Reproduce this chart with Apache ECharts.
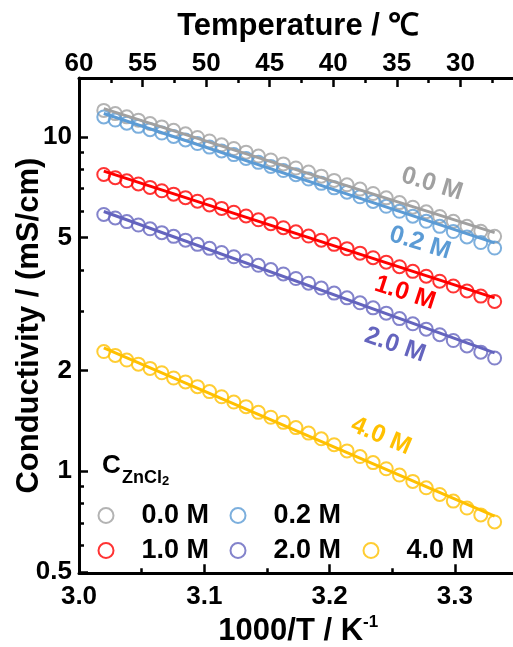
<!DOCTYPE html>
<html><head><meta charset="utf-8">
<script src="https://cdn.jsdelivr.net/npm/echarts@6/dist/echarts.min.js"></script>
<style>html,body{margin:0;padding:0;background:#fff}#c{width:513px;height:647px}</style>
</head><body><div id="c"></div>
<script>
// x positions: 1000/T (K^-1), measurements at 58 ... 27 degC
const invT = [3.01978,3.02893,3.03813,3.04739,3.05670,3.06607,3.07550,3.08499,3.09454,3.10414,3.11381,3.12354,3.13332,3.14317,3.15308,3.16306,3.17309,3.18319,3.19336,3.20359,3.21388,3.22425,3.23468,3.24517,3.25574,3.26637,3.27708,3.28785,3.29870,3.30961,3.32061,3.33167];
const cond00 = [12.00,11.74,11.48,11.22,10.96,10.71,10.46,10.21,9.96,9.72,9.47,9.23,9.00,8.76,8.53,8.30,8.07,7.85,7.63,7.41,7.19,6.98,6.77,6.57,6.36,6.16,5.97,5.78,5.59,5.40,5.22,5.04];
const cond02 = [11.47,11.23,10.99,10.75,10.51,10.27,10.03,9.79,9.55,9.32,9.08,8.85,8.62,8.39,8.16,7.93,7.71,7.48,7.26,7.04,6.83,6.62,6.41,6.20,5.99,5.79,5.59,5.40,5.21,5.02,4.83,4.65];
const cond10 = [7.72,7.55,7.39,7.23,7.06,6.90,6.74,6.58,6.42,6.26,6.11,5.95,5.80,5.65,5.50,5.35,5.20,5.05,4.91,4.77,4.63,4.49,4.35,4.22,4.09,3.96,3.83,3.70,3.58,3.46,3.34,3.22];
const cond20 = [5.86,5.72,5.58,5.45,5.31,5.17,5.04,4.91,4.77,4.64,4.51,4.38,4.26,4.13,4.01,3.89,3.77,3.65,3.53,3.41,3.30,3.19,3.08,2.97,2.86,2.76,2.66,2.56,2.46,2.37,2.27,2.18];
const cond40 = [2.28,2.22,2.15,2.09,2.03,1.97,1.90,1.85,1.79,1.73,1.67,1.61,1.56,1.50,1.45,1.40,1.35,1.30,1.25,1.20,1.15,1.106,1.061,1.017,0.974,0.932,0.892,0.852,0.814,0.776,0.740,0.705];
// Arrhenius fit lines (end points)
const fitX = [3.01978, 3.33167];
const fit00 = [12.15, 5.17];
const fit02 = [11.75, 4.82];
const fit10 = [7.90, 3.30];
const fit20 = [5.98, 2.26];
const fit40 = [2.34, 0.734];
const seriesNames = ['0.0 M','0.2 M','1.0 M','2.0 M','4.0 M'];
// tick labels
const xTicks = [3.0, 3.1, 3.2, 3.3];
const xMinorTicks = [3.05, 3.15, 3.25];
const tTicks = [60, 55, 50, 45, 40, 35, 30];
const tMinorTicks = [57.5, 52.5, 47.5, 42.5, 37.5, 32.5, 27.5];
const yTicks = [0.5, 1, 2, 5, 10];
const yMinorTicks = [0.6, 0.7, 0.8, 0.9, 3, 4, 6, 7, 8, 9];

const condSets = [cond00, cond02, cond10, cond20, cond40];
const fitSets = [fit00, fit02, fit10, fit20, fit40];
const colors = ['#a0a0a0', '#5b9bd5', '#ff0000', '#6464be', '#ffc000'];
const FF = '"Liberation Sans", Arial, sans-serif';
const lbl = {fontFamily: FF, fontWeight: 'bold', fontSize: 26, color: '#000'};
const axLine = {show: true, lineStyle: {color: '#000', width: 3}};

const series = [];
condSets.forEach((vals, i) => {
  series.push({
    name: seriesNames[i], type: 'scatter', xAxisIndex: 0, yAxisIndex: 0,
    data: invT.map((x, j) => [x, vals[j]]),
    symbol: 'circle', symbolSize: 13,
    itemStyle: {color: 'rgba(0,0,0,0)', borderColor: colors[i], borderWidth: 2},
    z: 2, silent: true
  });
  series.push({
    name: seriesNames[i] + ' fit', type: 'line', xAxisIndex: 0, yAxisIndex: 0,
    data: fitX.map((x, j) => [x, fitSets[i][j]]),
    symbol: 'none', showSymbol: false,
    lineStyle: {color: colors[i], width: 3},
    z: 3, silent: true
  });
});

const annos = [
  {t: '0.0 M', x: 432, y: 184, r: 17, c: colors[0]},
  {t: '0.2 M', x: 420, y: 243, r: 17, c: colors[1]},
  {t: '1.0 M', x: 405, y: 293, r: 18, c: colors[2]},
  {t: '2.0 M', x: 395, y: 345, r: 19, c: colors[3]},
  {t: '4.0 M', x: 381, y: 436, r: 23, c: colors[4]}
];
const graphics = annos.map(a => ({
  type: 'text', x: a.x, y: a.y, rotation: -a.r * Math.PI / 180,
  style: {text: a.t, x: 0, y: 0, align: 'center', verticalAlign: 'middle',
    fill: a.c, font: 'bold 25px ' + FF}
}));
graphics.push({type: 'text', x: 102, y: 466, style: {text: 'C', align: 'left', verticalAlign: 'middle', fill: '#000', font: 'bold 26px ' + FF}});
graphics.push({type: 'text', x: 122, y: 478, style: {text: 'ZnCl', align: 'left', verticalAlign: 'middle', fill: '#000', font: 'bold 18px ' + FF}});
graphics.push({type: 'text', x: 162, y: 481, style: {text: '2', align: 'left', verticalAlign: 'middle', fill: '#000', font: 'bold 13px ' + FF}});

// legend item placement (one legend per item)
const legendPos = [[97.5, 502], [229.5, 502], [97.5, 537], [229.5, 537], [362.5, 537]];
const legends = seriesNames.map((n, i) => ({
  data: [n], left: legendPos[i][0], top: legendPos[i][1],
  orient: 'horizontal', itemWidth: 61, itemHeight: 15, itemGap: 0, padding: 0,
  icon: 'circle', selectedMode: false,
  textStyle: {fontFamily: FF, fontWeight: 'bold', fontSize: 27, color: '#000'}
}));

const option = {
  animation: false,
  backgroundColor: '#fff',
  grid: {left: 79, top: 78, width: 438.6, height: 495.3, containLabel: false, outerBoundsMode: 'none'},
  xAxis: [
    {type: 'value', position: 'bottom', min: 3.0, max: 3.35,
     axisLine: axLine,
     axisTick: {inside: true, length: 9, lineStyle: {color: '#000', width: 2.5}, customValues: xTicks},
     axisLabel: Object.assign({customValues: xTicks, margin: 11, formatter: v => v.toFixed(1)}, lbl),
     splitLine: {show: false},
     name: '{a|1000/T / K}{s|-1}', nameLocation: 'middle', nameGap: 41, nameMoveOverlap: false,
     nameTextStyle: {rich: {a: {fontFamily: FF, fontWeight: 'bold', fontSize: 31, color: '#000', lineHeight: 34},
                            s: {fontFamily: FF, fontWeight: 'bold', fontSize: 17, color: '#000', verticalAlign: 'top', lineHeight: 18}}}},
    {type: 'value', position: 'bottom', min: 3.0, max: 3.35,
     axisLine: {show: false},
     axisTick: {inside: true, length: 5, lineStyle: {color: '#000', width: 2.5}, customValues: xMinorTicks},
     axisLabel: {show: false}, splitLine: {show: false}},
    {type: 'value', position: 'top', min: 25.5, max: 60, inverse: true,
     axisLine: axLine,
     axisTick: {inside: true, length: 9, lineStyle: {color: '#000', width: 2.5}, customValues: tTicks},
     axisLabel: Object.assign({customValues: tTicks, margin: 1}, lbl),
     splitLine: {show: false},
     name: 'Temperature / ℃', nameLocation: 'middle', nameGap: 36, nameMoveOverlap: false,
     nameTextStyle: {fontFamily: FF, fontWeight: 'bold', fontSize: 31, color: '#000'}},
    {type: 'value', position: 'top', min: 25.5, max: 60, inverse: true,
     axisLine: {show: false},
     axisTick: {inside: true, length: 5, lineStyle: {color: '#000', width: 2.5}, customValues: tMinorTicks},
     axisLabel: {show: false}, splitLine: {show: false}}
  ],
  yAxis: [
    {type: 'log', logBase: 10, position: 'left', min: 0.495, max: 15,
     axisLine: axLine,
     axisTick: {inside: true, length: 9, lineStyle: {color: '#000', width: 2.5}, customValues: yTicks},
     axisLabel: Object.assign({customValues: yTicks, margin: 7, formatter: v => String(v)}, lbl),
     splitLine: {show: false}, minorTick: {show: false},
     name: 'Conductivity / (mS/cm)', nameLocation: 'middle', nameGap: 34, nameRotate: 90, nameMoveOverlap: false,
     nameTextStyle: {fontFamily: FF, fontWeight: 'bold', fontSize: 31, color: '#000'}},
    {type: 'log', logBase: 10, position: 'left', min: 0.495, max: 15,
     axisLine: {show: false},
     axisTick: {inside: true, length: 5, lineStyle: {color: '#000', width: 2.5}, customValues: yMinorTicks},
     axisLabel: {show: false}, splitLine: {show: false}}
  ],
  legend: legends,
  graphic: graphics,
  series: series
};
const chart = echarts.init(document.getElementById('c'), null, {renderer: 'canvas'});
chart.setOption(option);
</script></body></html>
